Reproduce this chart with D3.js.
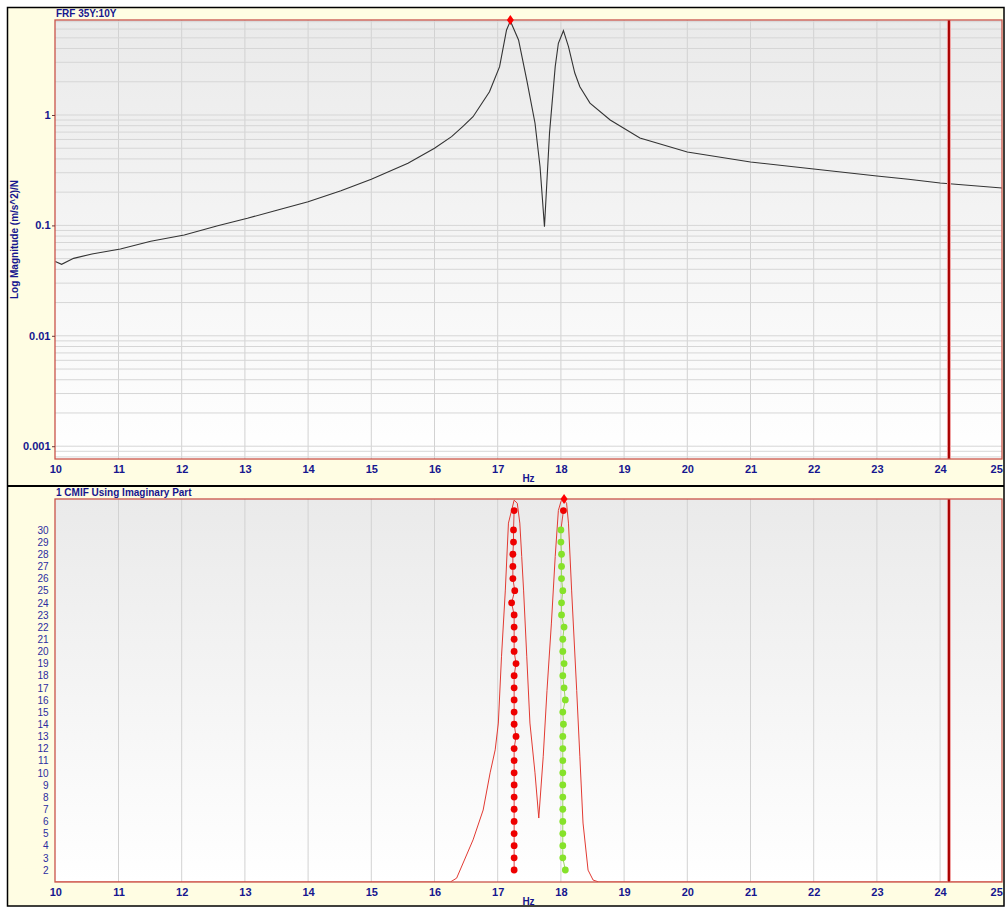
<!DOCTYPE html>
<html>
<head>
<meta charset="utf-8">
<script src="https://cdn.jsdelivr.net/npm/d3@7"></script>
<style>
  body { margin: 0; background: #fff; }
  svg text { font-family: "Liberation Sans", Arial, sans-serif; }
</style>
</head>
<body>
<svg id="chart" width="1005" height="907"></svg>
<script>
// ---- data ----
var hzTicks = [10, 11, 12, 13, 14, 15, 16, 17, 18, 19, 20, 21, 22, 23, 24, 25];
var magTicks = [0.001, 0.01, 0.1, 1];
var orderTicks = [2, 3, 4, 5, 6, 7, 8, 9, 10, 11, 12, 13, 14, 15, 16, 17, 18, 19, 20, 21, 22, 23, 24, 25, 26, 27, 28, 29, 30];

// FRF 35Y:10Y magnitude
var frfHz  = [10.0, 10.1, 10.29, 10.58, 11.03, 11.51, 12.04, 12.57, 13.04, 13.52, 14.0, 14.52, 15.0, 15.58, 16.0, 16.27, 16.45, 16.61, 16.87, 17.03, 17.14, 17.2, 17.33, 17.46, 17.59, 17.67, 17.74, 17.82, 17.91, 17.96, 18.04, 18.12, 18.22, 18.3, 18.46, 18.78, 19.25, 20.0, 21.0, 22.0, 23.0, 23.5, 24.0, 25.0];
var frfMag = [0.047, 0.0444, 0.0503, 0.0551, 0.0611, 0.0718, 0.0818, 0.0994, 0.116, 0.138, 0.164, 0.206, 0.262, 0.365, 0.499, 0.636, 0.79, 0.965, 1.626, 2.74, 5.89, 7.1, 4.78, 2.07, 0.846, 0.34, 0.0973, 0.687, 2.74, 4.46, 5.8, 4.16, 2.4, 1.8, 1.28, 0.9, 0.619, 0.462, 0.375, 0.324, 0.28, 0.262, 0.242, 0.218];

// CMIF (imaginary part), % of full scale
var cmifHz    = [10.0, 16.25, 16.35, 16.61, 16.77, 16.88, 16.96, 17.01, 17.06, 17.12, 17.17, 17.26, 17.31, 17.35, 17.38, 17.41, 17.46, 17.51, 17.59, 17.65, 17.72, 17.78, 17.85, 17.91, 17.96, 18.0, 18.04, 18.09, 18.12, 18.17, 18.25, 18.3, 18.35, 18.43, 18.51, 18.6, 25.0];
var cmifLevel = [0, 0, 1.0, 11, 18.8, 28.5, 34.5, 41.5, 58.8, 76, 93.7, 99.7, 98.9, 93.7, 85, 76, 58.8, 41.5, 28.5, 16.7, 32.7, 50, 67.6, 85, 97, 99.3, 100, 98.9, 93.7, 76, 50, 32.7, 15.4, 3.1, 0.5, 0, 0];

// stability columns, orders 2..30
var mode1Hz = [17.26, 17.26, 17.26, 17.26, 17.26, 17.26, 17.26, 17.26, 17.26, 17.26, 17.26, 17.29, 17.26, 17.26, 17.26, 17.26, 17.26, 17.29, 17.26, 17.26, 17.26, 17.26, 17.22, 17.27, 17.24, 17.24, 17.24, 17.25, 17.25];
var mode2Hz = [18.07, 18.03, 18.03, 18.03, 18.03, 18.03, 18.03, 18.03, 18.03, 18.03, 18.03, 18.03, 18.04, 18.03, 18.07, 18.05, 18.03, 18.05, 18.03, 18.03, 18.05, 18.01, 18.01, 18.03, 18.01, 18.01, 18.01, 18.00, 18.00];
var pickOrder = 31.6;
var pickHz = [17.26, 18.04];

var frfPeakHz = 17.2;
var cmifPeakHz = 18.05;
var cursorHz = 24.14;

// ---- layout ----
var svg = d3.select('#chart');
var left = 55, right = 1002;
var topPanel = {y0: 20, y1: 459};
var botPanel = {y0: 499, y1: 882};
var blue = '#16168f';

var x = d3.scaleLinear().domain([10, 25]).range([55.3, 1003.3]);
var yMag = d3.scaleLog().domain([0.000766, 7.25]).range([topPanel.y1, topPanel.y0]);
var yOrder = d3.scaleLinear().domain([1.01, 32.55]).range([botPanel.y1, botPanel.y0]);
var yCmif = d3.scaleLinear().domain([0, 100]).range([botPanel.y1, botPanel.y0]);

var defs = svg.append('defs');
var grad = defs.append('linearGradient')
    .attr('id', 'plotbg')
    .attr('x1', 0).attr('y1', 0).attr('x2', 0).attr('y2', 1);
grad.append('stop').attr('offset', '0%').attr('stop-color', '#eaeaea');
grad.append('stop').attr('offset', '100%').attr('stop-color', '#ffffff');

[topPanel, botPanel].forEach(function(p, i) {
  defs.append('clipPath').attr('id', 'clip' + i)
    .append('rect')
      .attr('x', left).attr('y', p.y0)
      .attr('width', right - left).attr('height', p.y1 - p.y0);
});

// frame
svg.append('rect')
    .attr('x', 7.5).attr('y', 7.5)
    .attr('width', 996.5).attr('height', 898.5)
    .attr('fill', '#fffde3')
    .attr('stroke', '#000')
    .attr('stroke-width', 1.5);
svg.append('line')
    .attr('x1', 7).attr('x2', 1004)
    .attr('y1', 486).attr('y2', 486)
    .attr('stroke', '#000').attr('stroke-width', 2);

function drawPanel(p, i) {
  var g = svg.append('g');
  g.append('rect')
      .attr('x', left).attr('y', p.y0)
      .attr('width', right - left).attr('height', p.y1 - p.y0)
      .attr('fill', 'url(#plotbg)');
  g.selectAll('line.vgrid')
      .data(hzTicks.slice(1, -1))
    .enter().append('line')
      .attr('class', 'vgrid')
      .attr('x1', function(d) { return x(d); })
      .attr('x2', function(d) { return x(d); })
      .attr('y1', p.y0).attr('y2', p.y1)
      .attr('stroke', '#d2d2d2');
  return g;
}

function drawBorder(p) {
  svg.append('rect')
      .attr('x', left).attr('y', p.y0)
      .attr('width', right - left).attr('height', p.y1 - p.y0)
      .attr('fill', 'none')
      .attr('stroke', '#c9534b')
      .attr('stroke-width', 1.3);
}

function drawCursor(p) {
  var cx = x(cursorHz);
  svg.append('rect')
      .attr('x', cx - 2).attr('y', p.y0)
      .attr('width', 4).attr('height', p.y1 - p.y0)
      .attr('fill', '#f0a0a0');
  svg.append('line')
      .attr('x1', cx).attr('x2', cx)
      .attr('y1', p.y0).attr('y2', p.y1)
      .attr('stroke', '#a80000').attr('stroke-width', 2);
}

function diamond(cx, cy) {
  svg.append('path')
      .attr('d', 'M' + cx + ',' + (cy - 5) + 'L' + (cx + 3.5) + ',' + cy +
                 'L' + cx + ',' + (cy + 5) + 'L' + (cx - 3.5) + ',' + cy + 'Z')
      .attr('fill', '#ff0000');
}

function xAxis(p) {
  var ax = svg.append('g')
      .attr('transform', 'translate(0,' + p.y1 + ')')
      .call(d3.axisBottom(x).tickValues(hzTicks).tickSize(0).tickPadding(6.5));
  ax.select('.domain').remove();
  ax.selectAll('text')
      .attr('fill', blue)
      .style('font-size', '11px')
      .style('font-weight', 'bold');
  ax.selectAll('.tick').filter(function(d) { return d === 25; })
    .select('text').attr('text-anchor', 'end').attr('dx', -1);
  svg.append('text')
      .attr('x', (left + right) / 2).attr('y', p.y1 + 23)
      .attr('text-anchor', 'middle')
      .attr('fill', blue)
      .style('font-size', '10px')
      .style('font-weight', 'bold')
      .text('Hz');
}

// ---- top panel: FRF ----
var g0 = drawPanel(topPanel, 0);
var hgrid = [];
[-4, -3, -2, -1, 0].forEach(function(e) {
  [1, 2, 3, 4, 5, 6, 7, 8, 9].forEach(function(k) {
    var v = k * Math.pow(10, e);
    if (v > yMag.domain()[0] && v < yMag.domain()[1]) hgrid.push(v);
  });
});
g0.selectAll('line.hgrid')
    .data(hgrid)
  .enter().append('line')
    .attr('class', 'hgrid')
    .attr('x1', left).attr('x2', right)
    .attr('y1', function(d) { return yMag(d); })
    .attr('y2', function(d) { return yMag(d); })
    .attr('stroke', '#d6d6d6');

g0.append('path')
    .datum(d3.zip(frfHz, frfMag))
    .attr('clip-path', 'url(#clip0)')
    .attr('fill', 'none')
    .attr('stroke', '#333')
    .attr('stroke-width', 1.1)
    .attr('d', d3.line()
      .x(function(d) { return x(d[0]); })
      .y(function(d) { return yMag(d[1]); }));

drawCursor(topPanel);
drawBorder(topPanel);
diamond(x(frfPeakHz), topPanel.y0);

var yax0 = svg.append('g')
    .attr('transform', 'translate(' + left + ',0)')
    .call(d3.axisLeft(yMag).tickValues(magTicks).tickSize(3).tickPadding(1.5)
      .tickFormat(function(d) { return String(d); }));
yax0.select('.domain').remove();
yax0.selectAll('line').attr('stroke', '#6a3a3a');
yax0.selectAll('text')
    .attr('fill', blue)
    .style('font-size', '11px')
    .style('font-weight', 'bold');
xAxis(topPanel);

svg.append('text')
    .attr('x', 56).attr('y', 17)
    .attr('fill', blue)
    .style('font-size', '10px')
    .style('font-weight', 'bold')
    .text('FRF 35Y:10Y');
svg.append('text')
    .attr('transform', 'translate(18,' + ((topPanel.y0 + topPanel.y1) / 2) + ') rotate(-90)')
    .attr('text-anchor', 'middle')
    .attr('fill', blue)
    .style('font-size', '10px')
    .style('font-weight', 'bold')
    .text('Log Magnitude (m/s^2)/N');

// ---- bottom panel: CMIF + stability ----
var g1 = drawPanel(botPanel, 1);

g1.append('path')
    .datum(d3.zip(cmifHz, cmifLevel))
    .attr('clip-path', 'url(#clip1)')
    .attr('fill', 'none')
    .attr('stroke', '#e23a32')
    .attr('stroke-width', 1)
    .attr('d', d3.line()
      .x(function(d) { return x(d[0]); })
      .y(function(d) { return yCmif(d[1]); }));

var col1 = d3.zip(mode1Hz, orderTicks).concat([[pickHz[0], pickOrder]]);
var col2 = d3.zip(mode2Hz, orderTicks);
var pts = d3.line()
    .x(function(d) { return x(d[0]); })
    .y(function(d) { return yOrder(d[1]); });

g1.append('path').datum(col1)
    .attr('fill', 'none').attr('stroke', '#e04040').attr('stroke-width', 1)
    .attr('d', pts);
g1.append('path').datum(col2)
    .attr('fill', 'none').attr('stroke', '#9ad860').attr('stroke-width', 1)
    .attr('d', pts);
g1.append('path').datum([[mode2Hz[mode2Hz.length - 1], 30], [pickHz[1], pickOrder]])
    .attr('fill', 'none').attr('stroke', '#e04040').attr('stroke-width', 1)
    .attr('d', pts);

g1.selectAll('circle.m1')
    .data(col1)
  .enter().append('circle')
    .attr('class', 'm1')
    .attr('cx', function(d) { return x(d[0]); })
    .attr('cy', function(d) { return yOrder(d[1]); })
    .attr('r', 3.4)
    .attr('fill', '#ee0000');
g1.selectAll('circle.m2')
    .data(col2)
  .enter().append('circle')
    .attr('class', 'm2')
    .attr('cx', function(d) { return x(d[0]); })
    .attr('cy', function(d) { return yOrder(d[1]); })
    .attr('r', 3.4)
    .attr('fill', '#86e22a');
g1.append('circle')
    .attr('cx', x(pickHz[1])).attr('cy', yOrder(pickOrder))
    .attr('r', 3.4).attr('fill', '#ee0000');

drawCursor(botPanel);
drawBorder(botPanel);
diamond(x(cmifPeakHz), botPanel.y0);

var yax1 = svg.append('g')
    .attr('transform', 'translate(' + left + ',0)')
    .call(d3.axisLeft(yOrder).tickValues(orderTicks).tickSize(0).tickPadding(6.5));
yax1.select('.domain').remove();
yax1.selectAll('text')
    .attr('fill', '#2c2ca0')
    .style('font-size', '10px');
xAxis(botPanel);

svg.append('text')
    .attr('x', 56).attr('y', 496)
    .attr('fill', blue)
    .style('font-size', '10px')
    .style('font-weight', 'bold')
    .text('1 CMIF Using Imaginary Part');
</script>
</body>
</html>
